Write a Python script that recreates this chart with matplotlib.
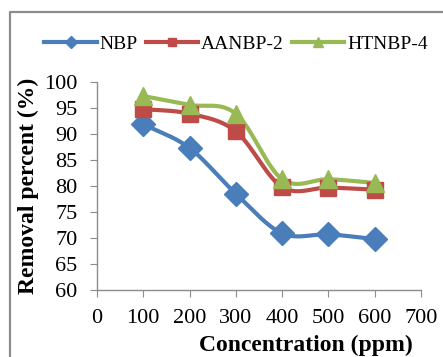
import numpy as np
import matplotlib
matplotlib.use("Agg")
import matplotlib.pyplot as plt
from matplotlib.lines import Line2D

conc = [100, 200, 300, 400, 500, 600]
nbp = [91.9, 87.3, 78.5, 70.9, 70.7, 69.8]
aanbp2 = [94.8, 93.9, 90.5, 79.8, 79.7, 79.3]
htnbp4 = [97.3, 95.6, 93.9, 81.3, 81.3, 80.6]
series_names = ["NBP", "AANBP-2", "HTNBP-4"]
colors = ["#4A7EBB", "#BE4B48", "#98B954"]
markers = ["D", "s", "^"]
msizes = [12.5, 12, 13.5]

plt.rcParams['font.family'] = ['Liberation Serif', 'DejaVu Serif']

def smooth(x, y, n=30):
    # Catmull-Rom style smoothing between points (display smoothing only)
    x = np.asarray(x, float); y = np.asarray(y, float)
    px = np.concatenate([[2*x[0]-x[1]], x, [2*x[-1]-x[-2]]])
    py = np.concatenate([[2*y[0]-y[1]], y, [2*y[-1]-y[-2]]])
    xs, ys = [], []
    t = np.linspace(0, 1, n)
    for i in range(1, len(px)-2):
        p0, p1, p2, p3 = [np.array([px[j], py[j]]) for j in range(i-1, i+3)]
        tension = 1/6
        c1 = p1 + (p2 - p0) * tension
        c2 = p2 - (p3 - p1) * tension
        pts = ((1-t)**3)[:, None]*p1 + (3*(1-t)**2*t)[:, None]*c1 + (3*(1-t)*t**2)[:, None]*c2 + (t**3)[:, None]*p2
        xs.extend(pts[:, 0]); ys.extend(pts[:, 1])
    return np.array(xs), np.array(ys)

fig = plt.figure(figsize=(4.43, 3.57), dpi=100)
ax = fig.add_axes([97/443, 1-290/357, (421-97)/443, (290-82)/357])

handles = []
for yv, c, m, ms, name in zip([nbp, aanbp2, htnbp4], colors, markers, msizes, series_names):
    sx, sy = smooth(conc, yv)
    ax.plot(sx, sy, color=c, lw=3.0, solid_capstyle='round', zorder=2)
    ax.plot(conc, yv, linestyle='none', marker=m, markersize=ms, color=c, zorder=3)
    handles.append(Line2D([], [], color=c, lw=3.0, marker=m, markersize=ms*0.5))

ax.set_xlim(0, 700)
ax.set_ylim(60, 100)
ax.set_xticks(range(0, 701, 100))
ax.set_yticks(range(60, 101, 5))
for s in ['top', 'right']:
    ax.spines[s].set_visible(False)
for s in ['left', 'bottom']:
    ax.spines[s].set_color('#8c8c8c')
    ax.spines[s].set_linewidth(1.0)
ax.tick_params(axis='both', direction='out', length=5, color='#8c8c8c', labelsize=16)
ax.tick_params(axis='y', pad=9)
ax.tick_params(axis='x', pad=9)

ax.set_xlabel("Concentration (ppm)", fontsize=17, fontweight='bold', labelpad=0)
ax.xaxis.set_label_coords((306-97)/324, -0.215)
ax.set_ylabel("Removal percent (%)", fontsize=17, fontweight='bold', labelpad=2)
ax.yaxis.set_label_coords((39-97)/324, 0.5)

fig.legend(handles, series_names, loc='center', bbox_to_anchor=(236/443, 1-44/357),
           ncol=3, frameon=False, fontsize=14, handlelength=2.7, handletextpad=0.15,
           columnspacing=0.4, borderpad=0)

# chart area border
fig.add_artist(Line2D([10/443, 10/443, 1.0], [0.0, 1-12/357, 1-12/357],
                      transform=fig.transFigure, color='#8c8c8c', lw=1.6))

fig.savefig("out.png", dpi=100)
